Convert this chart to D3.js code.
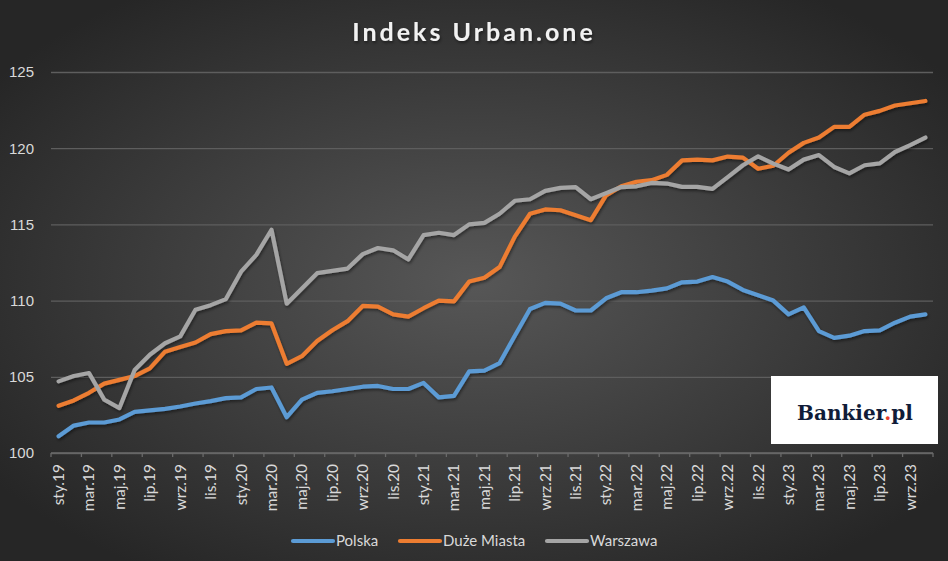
<!DOCTYPE html>
<html>
<head>
<meta charset="utf-8">
<script src="https://cdn.jsdelivr.net/npm/d3@7"></script>
<style>
  html, body { margin: 0; padding: 0; background: #333; }
  svg { display: block; font-family: Lato, "Open Sans", sans-serif; }
</style>
</head>
<body>
<div id="chart"></div>
<script>
const width = 948,
    height = 561,
    margin = ({ top: 72, right: 15, bottom: 108, left: 51 });

// Jan 2019 - Oct 2023, monthly
const monthNames = ["sty", "lut", "mar", "kwi", "maj", "cze", "lip", "sie", "wrz", "paź", "lis", "gru"];
const categories = [];
for (let y = 19; y <= 23; y++) {
  for (let m = 0; m < 12; m++) {
    if (y === 23 && m > 9) break;
    categories.push(monthNames[m] + "." + y);
  }
}

const seriesNames = ["Polska", "Duże Miasta", "Warszawa"];
const seriesColors = ["#5b9bd5", "#ed7d31", "#a5a5a5"];

const polska = [
  101.1, 101.8, 102.0, 102.0, 102.2, 102.7, 102.8, 102.9, 103.05, 103.25, 103.4, 103.6,
  103.65, 104.2, 104.3, 102.35, 103.5, 103.95, 104.05, 104.2, 104.35, 104.4, 104.2, 104.2,
  104.6, 103.65, 103.75, 105.35, 105.4, 105.9, 107.7, 109.45, 109.85, 109.8, 109.35, 109.35,
  110.15, 110.55, 110.55, 110.65, 110.8, 111.2, 111.25, 111.55, 111.25, 110.7, 110.35, 110.0,
  109.1, 109.55, 108.0, 107.55, 107.7, 108.0, 108.05, 108.55, 108.95, 109.1
];
const duzeMiasta = [
  103.1, 103.45, 103.95, 104.55, 104.8, 105.05, 105.55, 106.65, 106.95, 107.25, 107.8, 108.0,
  108.05, 108.55, 108.5, 105.85, 106.35, 107.35, 108.05, 108.65, 109.65, 109.6, 109.1, 108.95,
  109.5, 110.0, 109.95, 111.25, 111.5, 112.2, 114.2, 115.7, 115.98, 115.93, 115.6, 115.28,
  116.9, 117.5, 117.8, 117.9, 118.25, 119.2, 119.25, 119.2, 119.45, 119.38, 118.65, 118.85,
  119.7, 120.35, 120.7, 121.4, 121.4, 122.2, 122.45, 122.8, 122.95, 123.1
];
const warszawa = [
  104.7, 105.05, 105.25, 103.5, 102.95, 105.45, 106.45, 107.2, 107.65, 109.4, 109.7, 110.1,
  111.9, 113.0, 114.65, 109.8, 110.8, 111.8, 111.95, 112.1, 113.05, 113.45, 113.3, 112.7,
  114.3, 114.45, 114.3, 115.0, 115.1, 115.7, 116.55, 116.65, 117.2, 117.4, 117.45, 116.65,
  117.05, 117.45, 117.5, 117.72, 117.68, 117.46, 117.46, 117.33, 118.1, 118.88, 119.47, 118.99,
  118.6, 119.25, 119.55, 118.77, 118.35, 118.88, 119.0, 119.75, 120.2, 120.7
];
const yTicks = [100, 105, 110, 115, 120, 125];

const allSeries = [polska, duzeMiasta, warszawa];

const svg = d3.select("#chart")
  .append("svg")
  .attr("width", width)
  .attr("height", height)
  .attr("viewBox", [0, 0, width, height]);

const defs = svg.append("defs");
const bg = defs.append("radialGradient")
  .attr("id", "bg")
  .attr("cx", "50%").attr("cy", "50%").attr("r", "62%");
bg.append("stop").attr("offset", "0%").attr("stop-color", "#575757");
bg.append("stop").attr("offset", "100%").attr("stop-color", "#262626");

const shadow = defs.append("filter").attr("id", "shadow")
  .attr("x", "-5%").attr("y", "-5%").attr("width", "110%").attr("height", "110%");
shadow.append("feDropShadow")
  .attr("dx", 1).attr("dy", 2).attr("stdDeviation", 1.5)
  .attr("flood-color", "#000").attr("flood-opacity", 0.45);

svg.append("rect")
  .attr("width", width)
  .attr("height", height)
  .attr("fill", "url(#bg)");

let x = d3.scaleBand()
  .domain(categories)
  .range([margin.left, width - margin.right]);

let y = d3.scaleLinear()
  .domain([100, 125])
  .range([height - margin.bottom, margin.top]);

// y grid + labels
svg.append("g")
  .attr("transform", `translate(${margin.left},0)`)
  .call(d3.axisLeft(y)
    .tickValues(yTicks)
    .tickSize(-(width - margin.right - margin.left))
    .tickPadding(17))
  .call(g => g.select(".domain").remove())
  .call(g => g.selectAll(".tick line").attr("stroke", "#5e5e5e").attr("stroke-width", 1.3))
  .call(g => g.selectAll(".tick text")
    .attr("fill", "#d9d9d9")
    .attr("font-size", 15));

// x axis line and tick marks (every 2 months, on category boundaries)
const xAxis = svg.append("g")
  .attr("transform", `translate(0,${height - margin.bottom})`);

xAxis.append("line")
  .attr("x1", margin.left)
  .attr("x2", width - margin.right)
  .attr("stroke", "#6a6a6a")
  .attr("stroke-width", 1.3);

xAxis.selectAll(".tk")
  .data(categories.filter((d, i) => i % 2 === 0).concat(["__end"]))
  .join("line")
  .attr("class", "tk")
  .attr("x1", d => d === "__end" ? width - margin.right : x(d))
  .attr("x2", d => d === "__end" ? width - margin.right : x(d))
  .attr("y1", 0)
  .attr("y2", 4)
  .attr("stroke", "#6a6a6a")
  .attr("stroke-width", 1.3);

xAxis.selectAll(".lbl")
  .data(categories.filter((d, i) => i % 2 === 0))
  .join("text")
  .attr("class", "lbl")
  .attr("transform", d => `translate(${x(d) + x.bandwidth() / 2},11) rotate(-90)`)
  .attr("text-anchor", "end")
  .attr("dy", "0.35em")
  .attr("fill", "#d9d9d9")
  .attr("font-size", 15.5)
  .text(d => d);

// lines
let line = d3.line()
  .x((d, i) => x(categories[i]) + x.bandwidth() / 2)
  .y(d => y(d));

svg.append("g")
  .attr("filter", "url(#shadow)")
  .selectAll("path")
  .data(allSeries)
  .join("path")
  .attr("d", line)
  .attr("fill", "none")
  .attr("stroke", (d, i) => seriesColors[i])
  .attr("stroke-width", 4.2)
  .attr("stroke-linejoin", "round")
  .attr("stroke-linecap", "round");

// title
svg.append("text")
  .attr("x", width / 2)
  .attr("y", 41)
  .attr("text-anchor", "middle")
  .attr("fill", "#f2f2f2")
  .attr("font-size", 25)
  .attr("font-weight", "bold")
  .attr("letter-spacing", 3)
  .attr("filter", "url(#shadow)")
  .text("Indeks Urban.one");

// legend
const legendX = [293, 400, 547];
const legend = svg.append("g")
  .selectAll("g")
  .data(seriesNames)
  .join("g")
  .attr("transform", (d, i) => `translate(${legendX[i]},541)`);

legend.append("line")
  .attr("x1", 0).attr("x2", 40)
  .attr("stroke", (d, i) => seriesColors[i])
  .attr("stroke-width", 4.2)
  .attr("stroke-linecap", "round");

legend.append("text")
  .attr("x", 43)
  .attr("dy", "0.35em")
  .attr("fill", "#d9d9d9")
  .attr("font-size", 15)
  .text(d => d);

// logo box
const logo = svg.append("g").attr("transform", "translate(771,376)");
logo.append("rect")
  .attr("width", 167)
  .attr("height", 68)
  .attr("fill", "#ffffff");
const logoText = logo.append("text")
  .attr("x", 84)
  .attr("y", 44)
  .attr("text-anchor", "middle")
  .attr("font-family", "'DejaVu Serif', 'Liberation Serif', serif")
  .attr("font-weight", "bold")
  .attr("font-size", 20)
  .attr("fill", "#101c38");
logoText.append("tspan").text("Bankier");
logoText.append("tspan").attr("fill", "#e8412c").text(".");
logoText.append("tspan").text("pl");
</script>
</body>
</html>
